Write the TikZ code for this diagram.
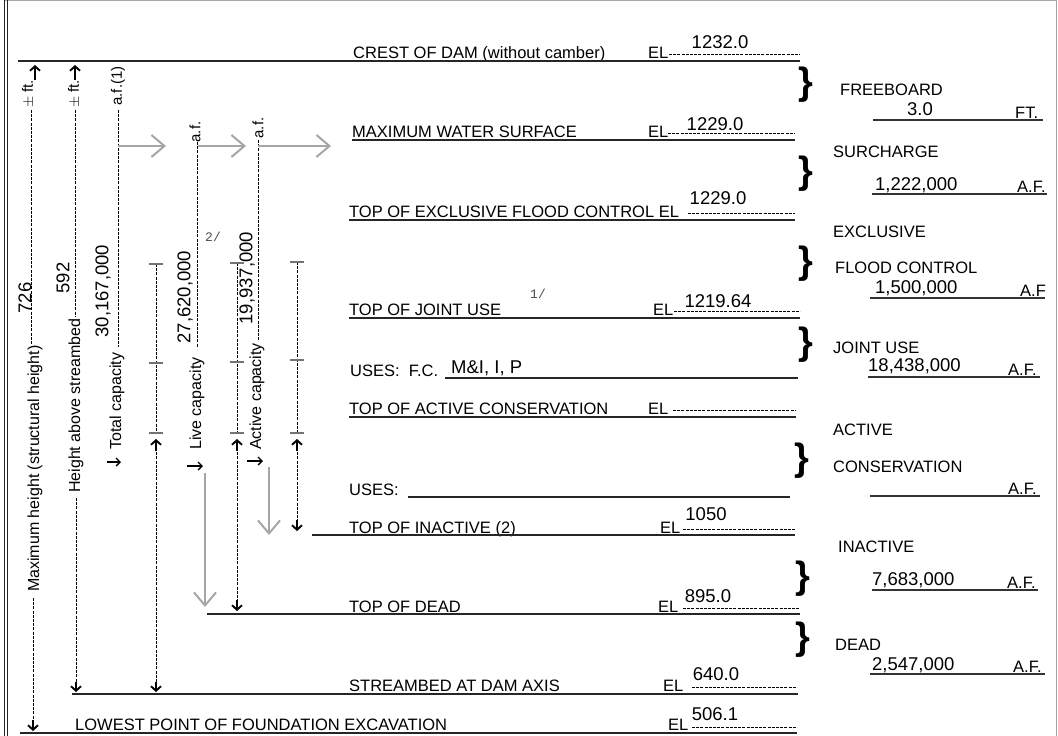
\documentclass[tikz,border=0pt]{standalone}
\usepackage{fontspec}
\setmainfont{Liberation Sans}
\newfontfamily\monof{Liberation Mono}
\usetikzlibrary{arrows.meta}
\tikzset{
  lbl/.style={anchor=base west, inner sep=0pt, font=\fontsize{16.5}{18}\selectfont},
  num/.style={anchor=base, inner sep=0pt, font=\fontsize{18.5}{20}\selectfont},
  numw/.style={anchor=base west, inner sep=0pt, font=\fontsize{18.5}{20}\selectfont},
  rlbl/.style={anchor=base west, inner sep=0pt, rotate=90, font=\fontsize{16}{18}\selectfont},
  rnum/.style={inner sep=0pt, rotate=90, font=\fontsize{18.5}{20}\selectfont},
  rsmall/.style={inner sep=0pt, rotate=90, font=\fontsize{15}{16}\selectfont},
  mono/.style={inner sep=0pt, text=black!70, font=\monof\fontsize{13}{14}\selectfont},
  level/.style={line width=2pt, black!85},
  vline/.style={line width=1.5pt, black!80},
  eldash/.style={line width=0.9pt, dash pattern=on 3pt off 1.2pt},
  dimdash/.style={line width=1pt, dash pattern=on 3pt off 1.2pt},
  tickbar/.style={line width=1.5pt, black!55},
  garrow/.style={black!35, line width=2pt, -{Straight Barb[length=13pt, width=22pt, line width=2pt]}},
  barrow/.style={line width=1.9pt, -{Straight Barb[length=4.5pt, width=10pt, line width=1.9pt]}},
  sarrow/.style={line width=1.3pt, -{Straight Barb[length=4pt, width=8pt, line width=1.3pt]}},
  brace/.style={inner sep=0pt, font=\fontsize{38}{38}\selectfont\bfseries},
}
\begin{document}
\begin{tikzpicture}[x=1pt,y=-1pt]
\useasboundingbox (0,0) rectangle (1058,736);
% frame
\draw[black!35, line width=1pt] (5,0.5) -- (1056.5,0.5) -- (1056.5,736);
\draw[black!85, line width=1.2pt] (4.5,0) -- (4.5,736);
\draw[black!85, line width=1.2pt] (7.5,0) -- (7.5,736);

% ---------------- levels ----------------
\node[lbl] (crest) at (353,58) {CREST OF DAM (without camber)};
\node[lbl] (elA) at (648,58) {EL};
\node[num] (nA) at (720,48) {1232.0};
\draw[eldash] (669,54) -- (800,54);
\draw[level] (18,61) coordinate (crestL) -- (800,61) coordinate (crestR);

\node[lbl] (mws) at (352,137) {MAXIMUM WATER SURFACE};
\node[lbl] (elB) at (648,137) {EL};
\node[num] (nB) at (715,130) {1229.0};
\draw[eldash] (668,133) -- (795,133);
\draw[level] (352,140) -- (795,140);

\node[lbl] (efc) at (349,217) {TOP OF EXCLUSIVE FLOOD CONTROL EL};
\node[num] (nC) at (718,204) {1229.0};
\draw[eldash] (688,213) -- (795,213);
\draw[level] (349,220) -- (795,220);

\node[lbl] (tju) at (349,315) {TOP OF JOINT USE};
\node[mono] (fn1) at (538,294) {1/};
\node[lbl] (elD) at (653,315) {EL};
\node[num] (nD) at (718,307) {1219.64};
\draw[eldash] (674,311) -- (800,311);
\draw[level] (349,318) -- (800,318);

\node[lbl] (usesA) at (350,376) {USES:\ \ F.C.};
\node[numw] (mip) at (451,373) {M\&I, I, P};
\draw[level] (445,378) -- (798,378);

\node[lbl] (tac) at (349,414) {TOP OF ACTIVE CONSERVATION};
\node[lbl] (elE) at (648,414) {EL};
\draw[eldash] (673,410) -- (795,410);
\draw[level] (349,417) -- (796,417);

\node[lbl] (usesB) at (349,495) {USES:};
\draw[level] (408,497) -- (790,497);

\node[lbl] (tin) at (349,533) {TOP OF INACTIVE (2)};
\node[lbl] (elF) at (660,533) {EL};
\node[num] (nF) at (706,520) {1050};
\draw[eldash] (683,529) -- (795,529);
\draw[level] (312,535) coordinate (inL) -- (795,535);

\node[lbl] (tdd) at (349,612) {TOP OF DEAD};
\node[lbl] (elG) at (658,612) {EL};
\node[num] (nG) at (708,602) {895.0};
\draw[eldash] (683,608) -- (800,608);
\draw[level] (207,614) coordinate (deadL) -- (800,614);

\node[lbl] (sbd) at (349,691) {STREAMBED AT DAM AXIS};
\node[lbl] (elH) at (663,691) {EL};
\node[num] (nH) at (716,680) {640.0};
\draw[eldash] (692,687) -- (797,687);
\draw[level] (72,694) coordinate (sbL) -- (798,694);

\node[lbl] (low) at (75,730) {LOWEST POINT OF FOUNDATION EXCAVATION};
\node[lbl] (elI) at (668,730) {EL};
\node[num] (nI) at (715,720) {506.1};
\draw[eldash] (692,727) -- (797,727);
\draw[level] (20,733) coordinate (lowL) -- (797,733);

% ---------------- right column ----------------
\node[brace] (b1) at (806,85) {\}};
\node[brace] (b2) at (806,174) {\}};
\node[brace] (b3) at (806,264) {\}};
\node[brace] (b4) at (806,345) {\}};
\node[brace] (b5) at (802,461) {\}};
\node[brace] (b6) at (803,579) {\}};
\node[brace] (b7) at (803,640) {\}};

\node[lbl] (fb) at (840,95) {FREEBOARD};
\node[num] (fbv) at (920,115) {3.0};
\draw[vline] (873,120) -- (1043,120);
\node[lbl] (ft) at (1015,118) {FT.};

\node[lbl] (sc) at (833,157) {SURCHARGE};
\node[numw] (scv) at (875,190) {1,222,000};
\draw[vline] (872,194) -- (1047,194);
\node[lbl] (af1) at (1017,192) {A.F.};

\node[lbl] (ex1) at (833,237) {EXCLUSIVE};
\node[lbl] (ex2) at (835,273) {FLOOD CONTROL};
\node[numw] (exv) at (875,293) {1,500,000};
\draw[vline] (870,298) -- (1045,298);
\node[lbl] (af2) at (1020,296) {A.F};

\node[lbl] (ju) at (833,353) {JOINT USE};
\node[numw] (juv) at (868,371) {18,438,000};
\draw[vline] (868,377) -- (1040,377);
\node[lbl] (af3) at (1008,375) {A.F.};

\node[lbl] (ac1) at (833,435) {ACTIVE};
\node[lbl] (ac2) at (833,472) {CONSERVATION};
\draw[vline] (870,496) -- (1040,496);
\node[lbl] (af4) at (1008,494) {A.F.};

\node[lbl] (ina) at (838,552) {INACTIVE};
\node[numw] (inav) at (872,585) {7,683,000};
\draw[vline] (872,590) -- (1038,590);
\node[lbl] (af5) at (1007,588) {A.F.};

\node[lbl] (dd) at (835,650) {DEAD};
\node[numw] (ddv) at (872,670) {2,547,000};
\draw[vline] (870,674) -- (1045,674);
\node[lbl] (af6) at (1013,672) {A.F.};

% ---------------- left dimension columns ----------------
% column 1: maximum height
\draw[barrow] (35,80) -- (35,65);
\node[rsmall] (pf1) at (28,94) {\(\pm\) ft.};
\draw[dimdash] (31,110) -- (31,345);
\node[rnum] (v726) at (25,298) {726};
\node[rlbl] (mh) at (39,592) {Maximum height (structural height)};
\draw[dimdash] (33,598) -- (33,722);
\draw[barrow] (33,720) -- (33,731);

% column 2: height above streambed
\draw[barrow] (75,80) -- (75,65);
\node[rsmall] (pf2) at (74,94) {\(\pm\) ft.};
\draw[dimdash] (75,110) -- (75,316);
\node[rnum] (v592) at (63,278) {592};
\node[rlbl] (has) at (80,493) {Height above streambed};
\draw[dimdash] (76,498) -- (76,684);
\draw[barrow] (76,682) -- (76,692);

% column 3: total capacity
\node[rsmall] (af1c) at (118,86) {a.f.(1)};
\draw[dimdash] (118,110) -- (118,347);
\node[rnum] (vtot) at (103,291) {30,167,000};
\node[rlbl] (tc) at (121,450) {Total capacity};
\draw[sarrow] (107,462) -- (121,462);
\draw[garrow] (118,146) -- (166,146);

% column 4
\draw[dimdash] (156,264) -- (156,433);
\draw[tickbar] (149,264) -- (163,264);
\draw[tickbar] (149,363) -- (163,363);
\draw[tickbar] (149,433) -- (163,433);
\draw[dimdash] (156,448) -- (156,684);
\draw[barrow] (156,451) -- (156,439);
\draw[barrow] (156,682) -- (156,692);

% column 5: live capacity
\node[rsmall] (af2c) at (195,132) {a.f.};
\draw[dimdash] (197,142) -- (197,347);
\node[rnum] (vlive) at (185,297) {27,620,000};
\node[rlbl] (lc) at (201,450) {Live capacity};
\draw[sarrow] (187,466) -- (203,466);
\node[mono] (fn2) at (213,237) {2/};
\draw[garrow] (198,146) -- (246,146);
\draw[garrow] (205,473) -- (205,607);

% column 6
\draw[dimdash] (237,263) -- (237,433);
\draw[tickbar] (230,263) -- (244,263);
\draw[tickbar] (230,362) -- (244,362);
\draw[tickbar] (230,433) -- (244,433);
\draw[dimdash] (237,448) -- (237,600);
\draw[barrow] (237,451) -- (237,439);
\draw[barrow] (237,600) -- (237,611);

% column 7: active capacity
\node[rsmall] (af3c) at (258,128) {a.f.};
\draw[dimdash] (258,140) -- (258,340);
\node[rnum] (vact) at (247,278) {19,937,000};
\node[rlbl] (acc) at (261,450) {Active capacity};
\draw[sarrow] (247,461) -- (263,461);
\draw[garrow] (258,146) -- (331,146);
\draw[garrow] (269,467) -- (269,535);

% column 8
\draw[dimdash] (297,262) -- (297,433);
\draw[tickbar] (290,262) -- (304,262);
\draw[tickbar] (290,360) -- (304,360);
\draw[tickbar] (290,433) -- (304,433);
\draw[dimdash] (297,448) -- (297,520);
\draw[barrow] (297,451) -- (297,439);
\draw[barrow] (297,520) -- (297,531);
\end{tikzpicture}
\end{document}
